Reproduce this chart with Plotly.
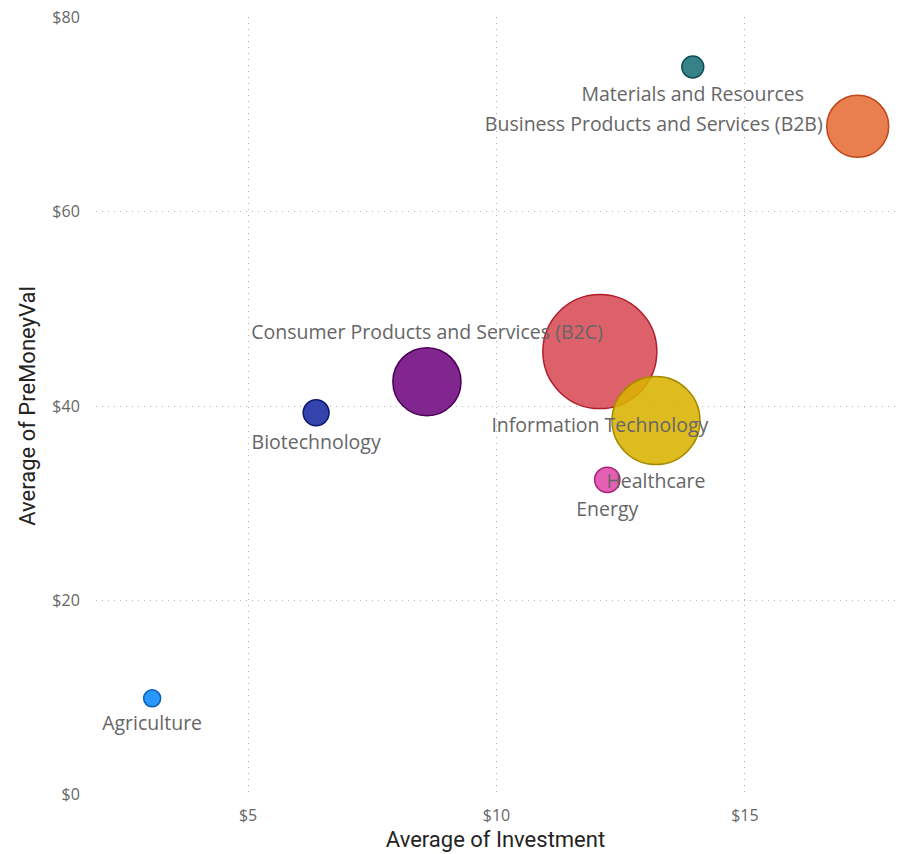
import math
import plotly.graph_objects as go

categories = ["Agriculture", "Biotechnology", "Consumer Products and Services (B2C)",
              "Information Technology", "Healthcare", "Energy",
              "Materials and Resources", "Business Products and Services (B2B)"]
avg_investment = [3.07, 6.37, 8.60, 12.08, 13.21, 12.23, 13.95, 17.27]
avg_premoney = [9.9, 39.3, 42.5, 45.6, 38.5, 32.4, 74.9, 68.8]
deal_count = [9, 21, 145, 406, 242, 20, 15, 120]
fill_colors = ["rgba(17,141,255,0.9)", "rgba(18,35,158,0.85)", "rgba(107,0,123,0.85)",
               "rgba(214,69,80,0.85)", "rgba(217,179,0,0.88)", "rgba(224,68,167,0.85)",
               "rgba(25,114,120,0.88)", "rgba(230,108,55,0.88)"]
line_colors = ["#0b5fb0", "#0c1870", "#4a0056", "#b01d2a", "#a98a00", "#a8207a",
               "#0f4f53", "#c0481a"]
label_positions = ["bottom center", "bottom center", "top center", "bottom center",
                   "bottom center", "bottom center", "bottom center", "middle left"]

SIZEREF = 0.0625
LABEL_SIZE = 19.5
FONT = "Open Sans, Segoe UI, sans-serif"
TITLE_FONT = "Roboto, sans-serif"

# bubble radius in px as plotly draws it (area sizemode)
radii = [math.sqrt(v / (2 * SIZEREF)) for v in deal_count]


def anchor_diameter(r, pos):
    # size of the invisible marker that sets the label offset (gap ~16px from bubble edge)
    if pos.startswith("bottom"):
        m = 0.8 * (r + 16.5 - 0.4 * LABEL_SIZE - 1)
    elif pos.startswith("top"):
        m = 0.8 * (r + 15 - 0.6 * LABEL_SIZE - 1)
    else:
        m = 0.8 * (r + 3)
    return 2 * m


label_anchor = [anchor_diameter(r, p) for r, p in zip(radii, label_positions)]

fig = go.Figure()
fig.add_trace(go.Scatter(
    x=avg_investment, y=avg_premoney, mode="markers",
    marker=dict(size=deal_count, sizemode="area", sizeref=SIZEREF, opacity=1,
                color=fill_colors, line=dict(color=line_colors, width=1.5)),
    hoverinfo="text", text=categories, showlegend=False))
fig.add_trace(go.Scatter(
    x=avg_investment, y=avg_premoney, mode="markers+text",
    marker=dict(size=label_anchor, sizemode="diameter", sizeref=1, opacity=1,
                color="rgba(0,0,0,0)", line=dict(width=0, color="rgba(0,0,0,0)")),
    text=categories, textposition=label_positions,
    textfont=dict(family=FONT, size=LABEL_SIZE, color="#666666"),
    hoverinfo="skip", showlegend=False))

grid = dict(showgrid=True, gridcolor="#b4b4b4", griddash="1px,5px", gridwidth=1,
            zeroline=False, showline=False, automargin=False,
            ticklabeloverflow="allow")

# page body has an 8px margin, so the figure is offset by (8, 8) in the window
fig.update_layout(
    width=895, height=846,
    margin=dict(l=88, r=8, t=9, b=59),
    paper_bgcolor="white", plot_bgcolor="white",
    font=dict(family=FONT),
    xaxis=dict(range=[1.94, 18.02], tick0=0, dtick=5, tickprefix="$",
               ticks="outside", ticklen=6, tickcolor="rgba(0,0,0,0)",
               tickfont=dict(family=FONT, size=16, color="#666666"),
               title=dict(text="Average of Investment", standoff=6,
                          font=dict(family=TITLE_FONT, size=22, color="#252423")),
               **grid),
    yaxis=dict(range=[-0.05, 80.05], tick0=0, dtick=20, tickprefix="$",
               ticks="outside", ticklen=12, tickcolor="rgba(0,0,0,0)",
               tickfont=dict(family=FONT, size=16, color="#666666"),
               title=dict(text="Average of PreMoneyVal", standoff=10,
                          font=dict(family=TITLE_FONT, size=22, color="#252423")),
               **grid),
)

fig.write_html("out.html")
